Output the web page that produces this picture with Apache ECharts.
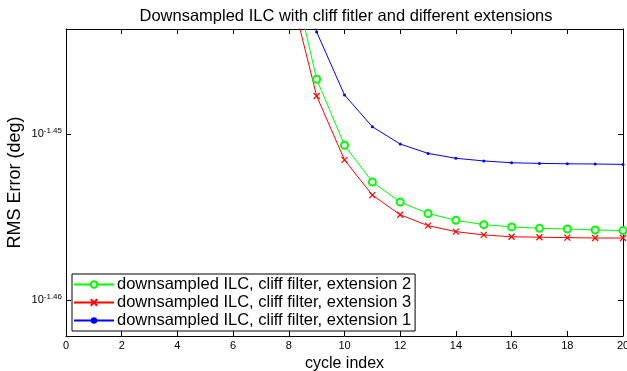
<!DOCTYPE html>
<html>
<head>
<meta charset="utf-8">
<script src="https://cdn.jsdelivr.net/npm/echarts@6/dist/echarts.min.js"></script>
<style>
html,body{margin:0;padding:0;background:#fff;}
#chart{width:627px;height:371px;}
</style>
</head>
<body>
<div id="chart"></div>
<script>
// cycle index
const cycles = [8, 9, 10, 11, 12, 13, 14, 15, 16, 17, 18, 19, 20];
// RMS error (deg)
const ext2 = [0.036358, 0.035752, 0.035426, 0.035246, 0.035148, 0.035092, 0.035059, 0.035038, 0.035027, 0.035020, 0.035017, 0.035012, 0.035009];
const ext3 = [0.036227, 0.035669, 0.035354, 0.035182, 0.035086, 0.035033, 0.035004, 0.034988, 0.034979, 0.034977, 0.034975, 0.034973, 0.034973];
const ext1 = [0.036348, 0.035987, 0.035674, 0.035517, 0.035432, 0.035386, 0.035362, 0.035349, 0.035340, 0.035337, 0.035335, 0.035334, 0.035332];
const seriesNames = [
  'downsampled ILC, cliff filter, extension 2',
  'downsampled ILC, cliff filter, extension 3',
  'downsampled ILC, cliff filter, extension 1'
];
const yTickExponents = [-1.46, -1.45];
const xTicks = [0, 2, 4, 6, 8, 10, 12, 14, 16, 18, 20];

const toPts = arr => cycles.map((c, i) => [c, Math.log10(arr[i])]);
const font = 'Liberation Sans, Arial, Helvetica, sans-serif';

const chart = echarts.init(document.getElementById('chart'));
const yMin = -1.462169, yMax = -1.443675;
const xAxisBase = {
  type: 'value', min: 0, max: 20, interval: 2,
  axisLine: {show: true, onZero: false, lineStyle: {color: '#000', width: 1}},
  axisTick: {show: true, inside: true, length: 5, lineStyle: {color: '#000'}},
  splitLine: {show: false}
};
const yAxisBase = {
  type: 'value', min: yMin, max: yMax,
  axisLine: {show: true, onZero: false, lineStyle: {color: '#000', width: 1}},
  axisTick: {show: true, inside: true, length: 5, customValues: yTickExponents, lineStyle: {color: '#000'}},
  splitLine: {show: false}
};
chart.setOption({
  animation: false,
  backgroundColor: '#fff',
  title: {
    text: 'Downsampled ILC with cliff fitler and different extensions',
    left: 341, top: 3, textAlign: 'center',
    textStyle: {fontFamily: font, fontSize: 16.5, fontWeight: 'normal', color: '#000'}
  },
  grid: {left: 66, right: 4, top: 29, bottom: 35, containLabel: false, outerBoundsMode: 'none'},
  legend: {
    orient: 'vertical', left: 72, top: 274,
    backgroundColor: '#fff', borderColor: '#000', borderWidth: 1,
    padding: [2, 4, 2, 1],
    itemWidth: 40, itemHeight: 8, itemGap: 1,
    textStyle: {fontFamily: font, fontSize: 16.5, color: '#000', padding: [0, 0, 0, -2], lineHeight: 17},
    data: seriesNames
  },
  xAxis: [
    Object.assign({}, xAxisBase, {
      position: 'bottom',
      name: 'cycle index', nameLocation: 'middle', nameGap: 18,
      nameTextStyle: {fontFamily: font, fontSize: 16, color: '#000'},
      axisLabel: {fontFamily: font, fontSize: 11, color: '#000', margin: 4,
        customValues: xTicks, showMaxLabel: true, showMinLabel: true}
    }),
    Object.assign({}, xAxisBase, {position: 'top', axisLabel: {show: false}})
  ],
  yAxis: [
    Object.assign({}, yAxisBase, {
      position: 'left',
      name: 'RMS Error (deg)', nameLocation: 'middle', nameGap: 42, nameMoveOverlap: false,
      nameTextStyle: {fontFamily: font, fontSize: 18, color: '#000'},
      axisLabel: {
        customValues: yTickExponents, margin: 4,
        formatter: v => '{b|10}{e|' + v.toFixed(2) + '}',
        rich: {
          b: {fontFamily: font, fontSize: 11, color: '#000'},
          e: {fontFamily: font, fontSize: 8, color: '#000', padding: [0, 0, 7, 0]}
        }
      }
    }),
    Object.assign({}, yAxisBase, {position: 'right', axisLabel: {show: false}})
  ],
  series: [
    {
      name: seriesNames[0], type: 'line', data: toPts(ext2),
      color: '#00ff00',
      lineStyle: {color: '#00ff00', width: 1},
      symbol: 'emptyCircle', symbolSize: 7,
      itemStyle: {color: '#00ff00', borderColor: '#00ff00', borderWidth: 1},
      clip: true, z: 3
    },
    {
      name: seriesNames[1], type: 'line', data: toPts(ext3),
      color: '#ff0000',
      lineStyle: {color: '#ff0000', width: 1},
      symbol: 'path://M0,0L10,10M10,0L0,10', symbolSize: 6,
      itemStyle: {color: 'rgba(0,0,0,0)', borderColor: '#ff0000', borderWidth: 1.2},
      clip: true, z: 3
    },
    {
      name: seriesNames[2], type: 'line', data: toPts(ext1),
      color: '#0000ff',
      lineStyle: {color: '#0000ff', width: 1},
      symbol: 'circle', symbolSize: 3,
      itemStyle: {color: '#0000ff'},
      clip: true, z: 3
    }
  ]
});
</script>
</body>
</html>
